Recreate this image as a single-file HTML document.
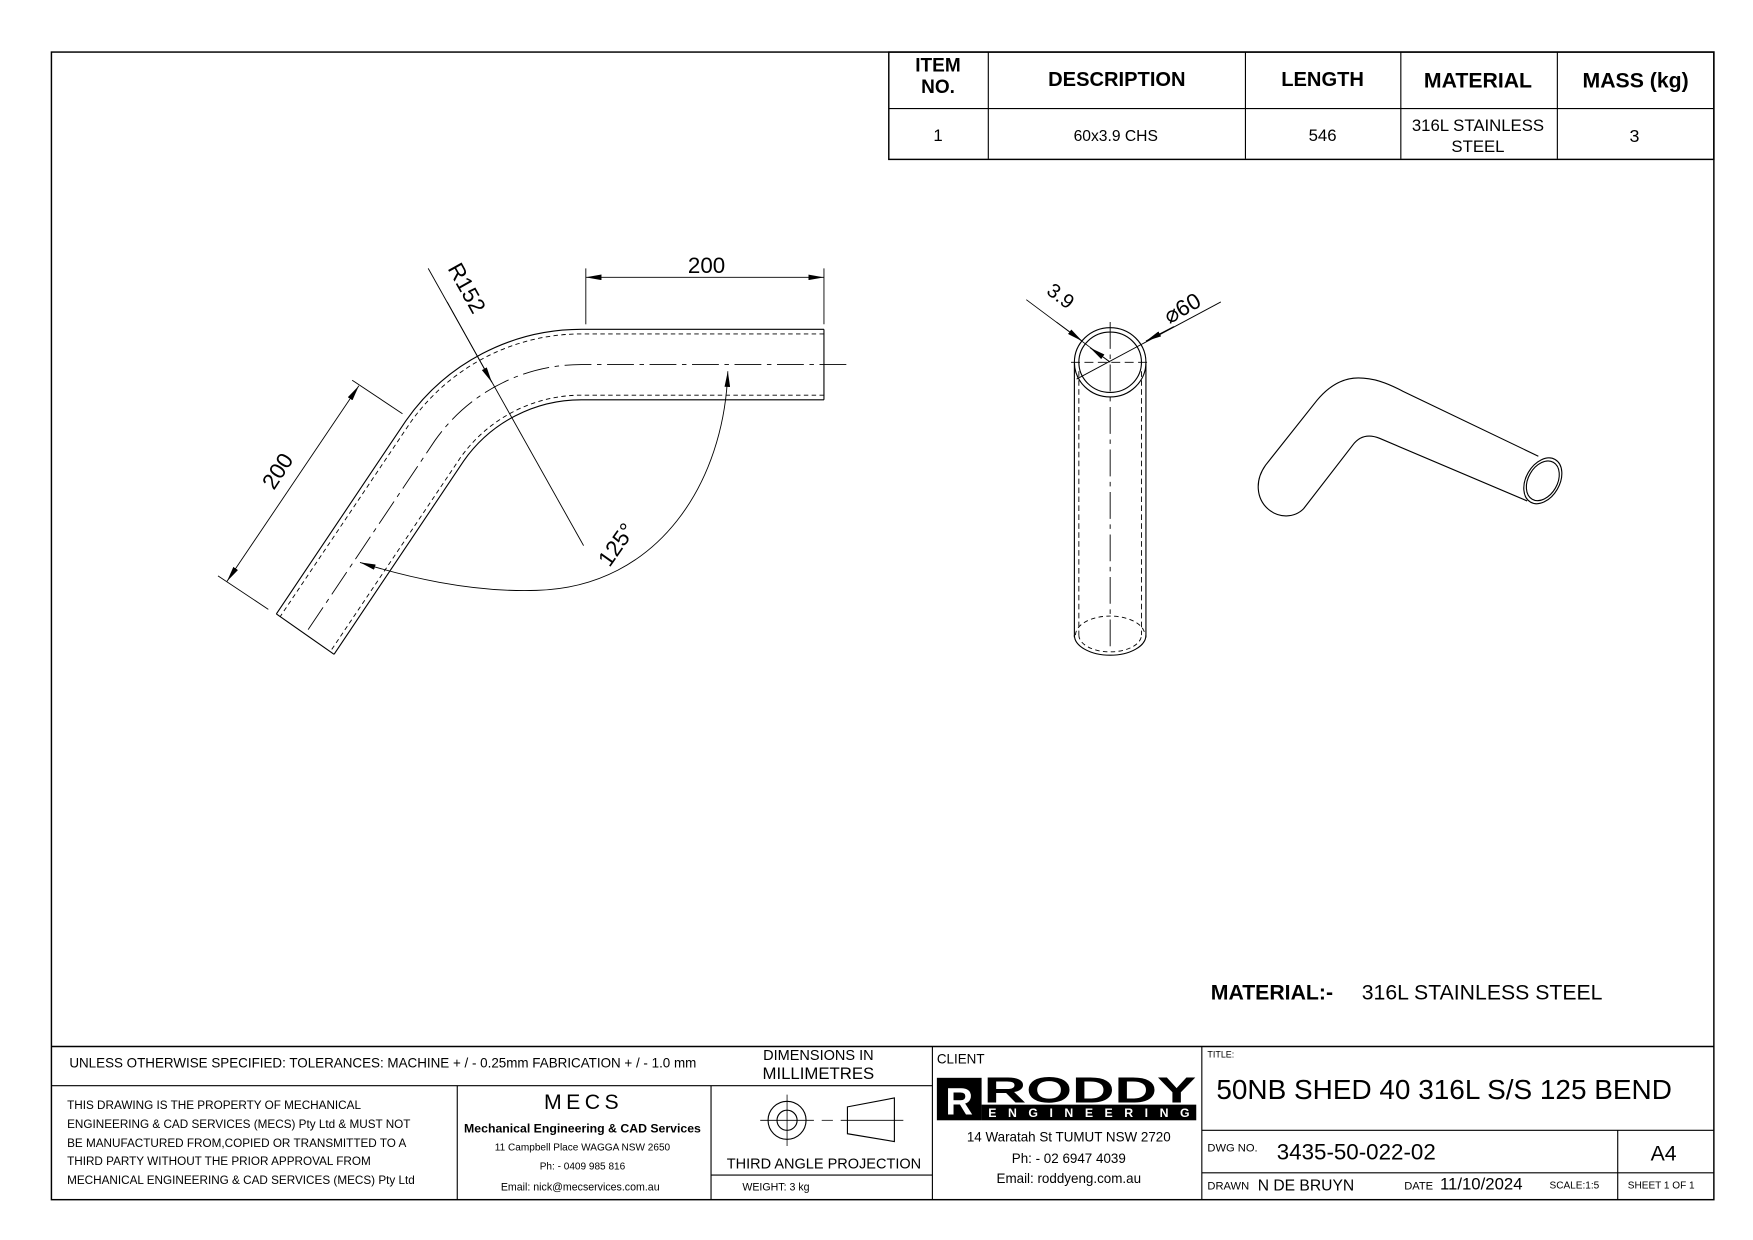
<!DOCTYPE html>
<html><head><meta charset="utf-8"><style>
html,body{margin:0;padding:0;background:#fff;}
svg{display:block}
text{font-family:"Liberation Sans",sans-serif;fill:#000}
</style></head><body>
<svg width="1753" height="1240" viewBox="0 0 1568 1109" xmlns="http://www.w3.org/2000/svg">
<defs>
<marker id="ar" viewBox="0 0 14 5" refX="14" refY="2.5" markerWidth="14" markerHeight="5" markerUnits="userSpaceOnUse" orient="auto-start-reverse"><path d="M0,0 L14,2.5 L0,5z" fill="#000"/></marker>
</defs>
<g fill="none" stroke="#000" stroke-width="1">
<rect x="46" y="46.5" width="1487" height="1026.5" stroke-width="1.3"/>
<rect x="795" y="46.5" width="738" height="96" stroke-width="1.3"/>
<line x1="795" y1="97" x2="1533" y2="97"/>
<line x1="884" y1="46" x2="884" y2="142"/>
<line x1="1114" y1="46" x2="1114" y2="142"/>
<line x1="1253" y1="46" x2="1253" y2="142"/>
<line x1="1393" y1="46" x2="1393" y2="142"/>
<line x1="46" y1="936" x2="1533" y2="936" stroke-width="1.3"/>
<line x1="46" y1="971" x2="834" y2="971"/>
<line x1="409" y1="971" x2="409" y2="1073"/>
<line x1="636" y1="971" x2="636" y2="1073"/>
<line x1="636" y1="1051" x2="834" y2="1051"/>
<line x1="834" y1="936" x2="834" y2="1073"/>
<line x1="1075" y1="936" x2="1075" y2="1073"/>
<line x1="1075" y1="1011" x2="1533" y2="1011"/>
<line x1="1075" y1="1049" x2="1533" y2="1049"/>
<line x1="1447" y1="1011" x2="1447" y2="1073"/>

<path d="M737,294.5 L520,294.5 A191.5,191.5 0 0 0 363.1,376.2 L247.2,549.1"/>
<path d="M737,357.5 L520,357.5 A128.5,128.5 0 0 0 414.7,412.3 L298.8,585.2"/>
<path d="M737,298.6 L520,298.6 A187.4,187.4 0 0 0 366.5,378.7 L250.6,551.5" stroke-dasharray="4,3" stroke-width="0.8"/>
<path d="M737,353.4 L520,353.4 A132.6,132.6 0 0 0 411.4,409.9 L295.4,582.8" stroke-dasharray="4,3" stroke-width="0.8"/>
<line x1="737" y1="294.5" x2="737" y2="357.5"/>
<line x1="247.2" y1="549.1" x2="298.8" y2="585.2"/>
<path d="M757,326 L520,326 A160,160 0 0 0 389,394 L273,567" stroke-dasharray="24,5,4,5" stroke-width="0.8"/>
<line x1="524" y1="240" x2="524" y2="290" stroke-width="0.8"/>
<line x1="737" y1="240" x2="737" y2="290" stroke-width="0.8"/>
<line x1="524" y1="248" x2="737" y2="248" stroke-width="0.8" marker-start="url(#ar)" marker-end="url(#ar)"/>
<line x1="383" y1="240" x2="522" y2="488" stroke-width="0.8"/>
<line x1="400" y1="270" x2="440" y2="342" stroke-width="0.8" marker-end="url(#ar)"/>
<line x1="240" y1="545" x2="195" y2="515" stroke-width="0.8"/>
<line x1="360" y1="370" x2="315" y2="340" stroke-width="0.8"/>
<line x1="203" y1="520" x2="321" y2="345" stroke-width="0.8" marker-start="url(#ar)" marker-end="url(#ar)"/>
<path d="M651,332 C648,430 590,525 480,528 C420,530 360,515 322,503" stroke-width="0.8" marker-start="url(#ar)" marker-end="url(#ar)"/>

<line x1="961" y1="325" x2="961" y2="570"/>
<line x1="1025" y1="325" x2="1025" y2="570"/>
<line x1="965" y1="332" x2="965" y2="568" stroke-dasharray="5,3" stroke-width="0.8"/>
<line x1="1021" y1="332" x2="1021" y2="568" stroke-dasharray="5,3" stroke-width="0.8"/>
<ellipse cx="993" cy="324" rx="32" ry="31"/>
<ellipse cx="993" cy="324" rx="28" ry="27"/>
<path d="M961,568 A32,18 0 0 0 1025,568"/>
<path d="M965,568 A28,15 0 0 0 1021,568" stroke-dasharray="4,3" stroke-width="0.8"/>
<path d="M962,568 A31,17 0 0 1 1024,568" stroke-dasharray="4,3" stroke-width="0.8"/>
<line x1="993" y1="288" x2="993" y2="580" stroke-dasharray="24,5,4,5" stroke-width="0.8"/>
<line x1="958" y1="324" x2="1029" y2="324" stroke-dasharray="8,4" stroke-width="0.8"/>
<line x1="918" y1="268" x2="993" y2="324" stroke-width="0.8"/>
<line x1="945" y1="288" x2="968" y2="305" stroke-width="0.8" marker-end="url(#ar)"/>
<line x1="975" y1="311" x2="992" y2="323" stroke-width="0.8" marker-start="url(#ar)"/>
<line x1="1092" y1="270" x2="963" y2="339" stroke-width="0.8"/>
<line x1="1050" y1="292" x2="1025" y2="305" stroke-width="0.8" marker-end="url(#ar)"/>

<path d="M1376,408 L1255,350 C1240,342 1228,338 1215,338 C1200,338 1188,346 1178,358 L1132,416 C1122,430 1124,446 1134,455 C1144,464 1158,463 1166,455 L1210,398 C1216,390 1224,388 1234,392 L1366,448"/>
<ellipse cx="1380" cy="430" rx="15" ry="22" transform="rotate(30 1380 430)"/>
<ellipse cx="1380" cy="430" rx="13" ry="19" transform="rotate(30 1380 430)"/>

<circle cx="704" cy="1002" r="17"/>
<circle cx="704" cy="1002" r="9"/>
<line x1="680" y1="1002" x2="728" y2="1002" stroke-width="0.7"/>
<line x1="704" y1="979" x2="704" y2="1025" stroke-width="0.7"/>
<line x1="735" y1="1002" x2="745" y2="1002" stroke-width="0.7"/>
<path d="M758,990 L800,982 L800,1021 L758,1014 Z"/>
<line x1="752" y1="1002" x2="808" y2="1002" stroke-width="0.7"/>
</g>

<rect x="838" y="964" width="40" height="38" fill="#000"/>
<text x="858" y="997" font-size="34" font-weight="bold" text-anchor="middle" style="fill:#fff">R</text>
<text x="880" y="986" font-size="32" font-weight="bold" textLength="190" lengthAdjust="spacingAndGlyphs">RODDY</text>
<rect x="878" y="988" width="192" height="14" fill="#000"/>
<text x="974" y="999" font-size="11" font-weight="bold" text-anchor="middle" textLength="180" lengthAdjust="spacing" style="fill:#fff">ENGINEERING</text>

<g font-size="13">
<text x="839" y="64" font-weight="bold" font-size="17" text-anchor="middle">ITEM</text>
<text x="839" y="83" font-weight="bold" font-size="17" text-anchor="middle">NO.</text>
<text x="999" y="77" font-weight="bold" font-size="18" text-anchor="middle">DESCRIPTION</text>
<text x="1183" y="77" font-weight="bold" font-size="18" text-anchor="middle">LENGTH</text>
<text x="1322" y="78" font-weight="bold" font-size="19" text-anchor="middle">MATERIAL</text>
<text x="1463" y="78" font-weight="bold" font-size="19" text-anchor="middle">MASS (kg)</text>
<text x="839" y="126" font-size="15" text-anchor="middle">1</text>
<text x="998" y="126" font-size="14" text-anchor="middle">60x3.9 CHS</text>
<text x="1183" y="126" font-size="15" text-anchor="middle">546</text>
<text x="1322" y="117" font-size="15" text-anchor="middle">316L STAINLESS</text>
<text x="1322" y="136" font-size="15" text-anchor="middle">STEEL</text>
<text x="1462" y="127" font-size="16" text-anchor="middle">3</text>

<text x="632" y="244" font-size="20" text-anchor="middle">200</text>
<text x="0" y="0" font-size="20" transform="translate(400,240) rotate(61)">R152</text>
<text x="0" y="0" font-size="20" text-anchor="middle" transform="translate(254,425) rotate(-57)">200</text>
<text x="0" y="0" font-size="20" text-anchor="middle" transform="translate(557,491) rotate(-55)">125°</text>
<text x="0" y="0" font-size="18" transform="translate(935,262) rotate(37)">3.9</text>
<text x="0" y="0" font-size="20" transform="translate(1046,290) rotate(-30)">⌀60</text>

<text x="1083" y="894" font-size="19" font-weight="bold">MATERIAL:-</text>
<text x="1218" y="894" font-size="19">316L STAINLESS STEEL</text>

<text x="62" y="955" font-size="12">UNLESS OTHERWISE SPECIFIED: TOLERANCES: MACHINE + / - 0.25mm  FABRICATION + / - 1.0 mm</text>
<text x="732" y="948" font-size="13" text-anchor="middle">DIMENSIONS IN</text>
<text x="732" y="965" font-size="15" text-anchor="middle">MILLIMETRES</text>
<text x="838" y="951" font-size="12">CLIENT</text>
<text x="1080" y="946" font-size="8">TITLE:</text>
<text x="1088" y="983" font-size="25">50NB SHED 40 316L S/S 125 BEND</text>
<text x="1080" y="1030" font-size="10">DWG NO.</text>
<text x="1142" y="1037" font-size="20">3435-50-022-02</text>
<text x="1488" y="1038" font-size="19" text-anchor="middle">A4</text>
<text x="1080" y="1064" font-size="10">DRAWN</text>
<text x="1125" y="1065" font-size="14">N DE BRUYN</text>
<text x="1256" y="1064" font-size="10">DATE</text>
<text x="1288" y="1064" font-size="15">11/10/2024</text>
<text x="1386" y="1063" font-size="9">SCALE:1:5</text>
<text x="1456" y="1063" font-size="9">SHEET 1 OF 1</text>

<g font-size="10.5">
<text x="60" y="992">THIS DRAWING IS THE PROPERTY OF MECHANICAL</text>
<text x="60" y="1009">ENGINEERING &amp; CAD SERVICES (MECS) Pty Ltd &amp; MUST NOT</text>
<text x="60" y="1026">BE MANUFACTURED FROM,COPIED OR TRANSMITTED TO A</text>
<text x="60" y="1042">THIRD PARTY WITHOUT THE PRIOR APPROVAL FROM</text>
<text x="60" y="1059">MECHANICAL ENGINEERING &amp; CAD SERVICES (MECS) Pty Ltd</text>
</g>
<text x="522" y="992" font-size="19" text-anchor="middle" letter-spacing="4">MECS</text>
<text x="521" y="1013" font-size="11" font-weight="bold" text-anchor="middle">Mechanical Engineering &amp; CAD Services</text>
<text x="521" y="1029" font-size="9" text-anchor="middle">11 Campbell Place WAGGA NSW 2650</text>
<text x="521" y="1046" font-size="9" text-anchor="middle">Ph: - 0409 985 816</text>
<text x="519" y="1065" font-size="9.5" text-anchor="middle">Email: nick@mecservices.com.au</text>
<text x="737" y="1045" font-size="13" text-anchor="middle">THIRD ANGLE PROJECTION</text>
<text x="664" y="1065" font-size="9.5">WEIGHT: 3 kg</text>
<text x="956" y="1021" font-size="12" text-anchor="middle">14 Waratah St TUMUT NSW 2720</text>
<text x="956" y="1040" font-size="12" text-anchor="middle">Ph: - 02 6947 4039</text>
<text x="956" y="1058" font-size="12" text-anchor="middle">Email: roddyeng.com.au</text>
</g>
</svg>
</body></html>
